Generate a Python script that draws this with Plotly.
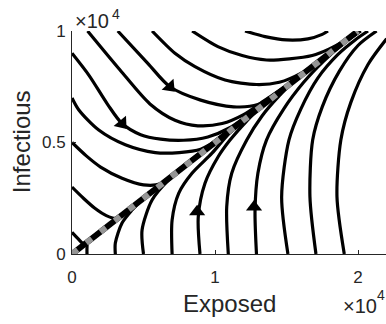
import plotly.graph_objects as go

# Phase-plane trajectories of the exposed / infectious compartments.
# All values are in units of 10^4 individuals.

# Trajectories entering through the top edge
from_top = [
    ([1.21, 1.35, 1.50, 1.65, 1.75, 1.79],
     [1.0, 0.975, 0.96, 0.965, 0.985, 1.0]),
    ([0.84, 1.02, 1.19, 1.36, 1.52, 1.68, 1.80, 1.90, 2.0],
     [1.0, 0.93, 0.89, 0.87, 0.875, 0.89, 0.92, 0.955, 1.0]),
    ([0.56, 0.72, 0.86, 1.07, 1.29, 1.45, 1.60, 1.75, 1.88, 2.0],
     [1.0, 0.90, 0.84, 0.78, 0.76, 0.77, 0.81, 0.875, 0.94, 1.0]),
    ([0.32, 0.53, 0.685, 0.90, 1.13, 1.30, 1.45, 1.60, 1.80, 2.0],
     [1.0, 0.855, 0.75, 0.69, 0.66, 0.67, 0.73, 0.80, 0.90, 1.0]),
    ([0.109, 0.336, 0.545, 0.72, 0.88, 1.05, 1.2, 1.35, 1.6, 2.0],
     [1.0, 0.825, 0.673, 0.60, 0.575, 0.585, 0.625, 0.69, 0.80, 1.0]),
]

# Trajectories entering through the left edge (Exposed = 0)
from_left = [
    ([0, 0.12, 0.25, 0.35, 0.48, 0.62, 0.78, 0.95, 1.1, 1.3, 1.6, 2.0],
     [0.9, 0.80, 0.67, 0.585, 0.535, 0.515, 0.51, 0.525, 0.565, 0.655, 0.80, 1.0]),
    ([0, 0.048, 0.187, 0.373, 0.582, 0.75, 0.90, 1.05, 1.2, 1.6, 2.0],
     [0.70, 0.646, 0.556, 0.49, 0.455, 0.455, 0.47, 0.525, 0.60, 0.80, 1.0]),
    ([0, 0.1, 0.2, 0.35, 0.5, 0.62, 0.72, 0.85, 1.2, 2.0],
     [0.5, 0.44, 0.39, 0.34, 0.31, 0.315, 0.36, 0.425, 0.6, 1.0]),
    ([0, 0.08, 0.16, 0.24, 0.31, 0.4, 1.0, 2.0],
     [0.3, 0.25, 0.205, 0.172, 0.16, 0.2, 0.5, 1.0]),
    ([0, 0.04, 0.075, 0.1, 0.5, 2.0],
     [0.097, 0.07, 0.048, 0.05, 0.25, 1.0]),
]

# Trajectories entering through the bottom edge (Infectious = 0)
from_bottom = [
    ([0.105, 0.105, 0.11, 0.3, 2.0],
     [0, 0.03, 0.055, 0.15, 1.0]),
    ([0.303, 0.303, 0.35, 0.42, 0.5, 2.0],
     [0, 0.049, 0.139, 0.197, 0.25, 1.0]),
    ([0.50, 0.49, 0.56, 0.676, 0.8, 2.0],
     [0, 0.108, 0.242, 0.332, 0.40, 1.0]),
    ([0.70, 0.70, 0.746, 0.839, 0.979, 1.12, 1.4, 2.0],
     [0, 0.152, 0.272, 0.362, 0.452, 0.555, 0.70, 1.0]),
    ([0.895, 0.883, 0.93, 1.023, 1.105, 1.22, 1.32, 1.6, 2.0],
     [0, 0.167, 0.317, 0.437, 0.511, 0.595, 0.66, 0.8, 1.0]),
    ([1.093, 1.082, 1.117, 1.222, 1.33, 1.45, 1.56, 2.0],
     [0, 0.212, 0.362, 0.511, 0.62, 0.71, 0.78, 1.0]),
    ([1.29, 1.28, 1.30, 1.36, 1.48, 1.62, 1.76, 1.9, 2.02],
     [0, 0.197, 0.362, 0.511, 0.65, 0.77, 0.865, 0.945, 1.0]),
    ([1.51, 1.466, 1.517, 1.60, 1.72, 1.86, 1.98, 2.07],
     [0, 0.256, 0.511, 0.65, 0.79, 0.895, 0.96, 1.0]),
    ([1.706, 1.664, 1.683, 1.75, 1.87, 2.0, 2.13],
     [0, 0.256, 0.511, 0.66, 0.82, 0.935, 1.0]),
    ([1.904, 1.853, 1.88, 1.95, 2.07, 2.2],
     [0, 0.256, 0.511, 0.68, 0.85, 0.965]),
]

# Slow manifold the trajectories collapse onto
manifold_e = [0.0, 2.0]
manifold_i = [0.0, 1.0]

# Direction markers placed on a few trajectories
arrow_e = [0.35, 0.685, 0.875, 1.273]
arrow_i = [0.585, 0.75, 0.19, 0.211]
arrow_angle = [140, 137, 0, 0]

x_ticks = [0, 1, 2]
y_ticks = [0, 0.5, 1]
y_tick_text = ["0", "0.5", "1"]

INK = "#262626"
FONT = "Liberation Sans, Arial, Helvetica, sans-serif"

fig = go.Figure()

for e, i in from_top + from_left + from_bottom:
    fig.add_trace(go.Scatter(
        x=e, y=i, mode="lines",
        line=dict(color="black", width=3.2, shape="spline", smoothing=0.8),
        hoverinfo="skip", showlegend=False,
    ))

fig.add_trace(go.Scatter(
    x=manifold_e, y=manifold_i, mode="lines",
    line=dict(color="black", width=6),
    hoverinfo="skip", showlegend=False,
))
fig.add_trace(go.Scatter(
    x=manifold_e, y=manifold_i, mode="lines",
    line=dict(color="#959595", width=6, dash="7px,11px"),
    hoverinfo="skip", showlegend=False,
))

fig.add_trace(go.Scatter(
    x=arrow_e, y=arrow_i, mode="markers",
    marker=dict(symbol="triangle-up", size=14, color="black",
                angle=arrow_angle, line=dict(width=0)),
    hoverinfo="skip", showlegend=False,
))

axis_common = dict(
    showgrid=False, zeroline=False, showline=True,
    linecolor=INK, linewidth=1,
    ticks="inside", ticklen=4, tickcolor=INK, tickwidth=1,
    tickfont=dict(family=FONT, size=17, color=INK),
    mirror=False,
)


def power_label(x, y_base, y_exp, x_exp):
    """Axis multiplier written as '×10' with a raised exponent."""
    return [
        dict(text="×10", xref="paper", yref="paper", x=x, y=y_base,
             xanchor="left", yanchor="middle", showarrow=False,
             font=dict(family=FONT, size=20, color=INK)),
        dict(text="4", xref="paper", yref="paper", x=x_exp, y=y_exp,
             xanchor="left", yanchor="middle", showarrow=False,
             font=dict(family=FONT, size=14, color=INK)),
    ]


fig.update_layout(
    width=386, height=324,
    margin=dict(l=72, r=0, t=31, b=70),
    paper_bgcolor="white", plot_bgcolor="white",
    xaxis=dict(range=[0, 314 / 143], tickvals=x_ticks,
               ticktext=[str(v) for v in x_ticks], ticklabelstandoff=8,
               **axis_common),
    yaxis=dict(range=[0, 1], tickvals=y_ticks, ticktext=y_tick_text,
               ticklabelstandoff=2, **axis_common),
    annotations=[
        dict(text="Exposed", xref="paper", yref="paper", x=0.503, y=-0.22,
             xanchor="center", yanchor="middle", showarrow=False,
             font=dict(family=FONT, size=24, color=INK)),
        dict(text="Infectious", xref="paper", yref="paper", x=-0.16, y=0.505,
             xanchor="center", yanchor="middle", showarrow=False, textangle=-90,
             font=dict(family=FONT, size=24, color=INK)),
    ]
    + power_label(0.004, 1.045, 1.076, 0.121)
    + power_label(0.857, -0.233, -0.184, 0.966),
)

fig.write_html("out.html", config={"displayModeBar": False})
